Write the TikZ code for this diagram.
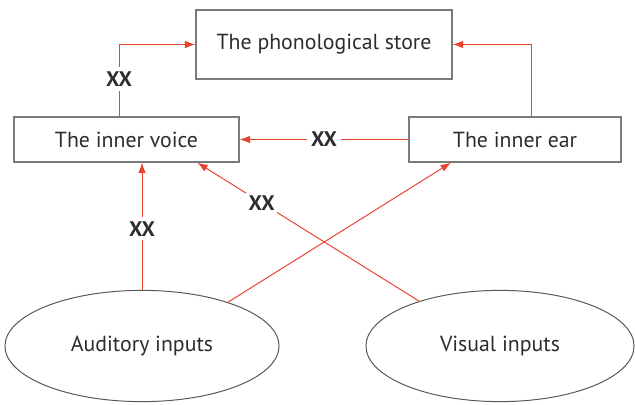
\documentclass[tikz,border=0pt]{standalone}
\usepackage{fontspec}
\setmainfont{PT Sans}
\usepackage{xcolor}
\usetikzlibrary{positioning,arrows.meta,shapes.geometric,calc}
\definecolor{linkCol}{HTML}{E8432F}
\definecolor{boxCol}{HTML}{7A7A7A}
\definecolor{txtCol}{HTML}{2D2D2D}

\begin{document}
\begin{tikzpicture}[
    x=0.025cm, y=-0.025cm,
    >={Latex[length=2.6mm,width=1.9mm]},
    font=\fontsize{15.5}{17}\selectfont,
    text=txtCol,
    box/.style={draw=boxCol, line width=1pt, inner sep=0pt,
      minimum height=1.125cm, align=center},
    input/.style={ellipse, draw=txtCol!80, line width=0.7pt, inner sep=0pt,
      minimum height=2.78cm},
    arr/.style={->, line width=0.7pt, draw=linkCol},
    tag/.style={fill=white, inner sep=3pt, font=\fontsize{15}{17}\selectfont\bfseries},
  ]
\useasboundingbox (0,0) rectangle (635,405);

% Stores and rehearsal
\node[box, minimum width=6.4cm, minimum height=1.725cm] (store) at (324,44.5) {The phonological store};
\node[box, minimum width=5.625cm] (voice) at (126.5,139.5) {The inner voice};
\node[box, minimum width=5.3cm] (ear) at (515,139.5) {The inner ear};

% Inputs
\node[input, minimum width=6.85cm] (aud) at (142,346) {Auditory inputs};
\node[input, minimum width=6.7cm] (vis) at (500,346) {Visual inputs};

% Anchor points on the box edges
\coordinate (voiceTop) at ($(voice.north west)!0.467!(voice.north east)$);
\coordinate (earTop) at ($(ear.north west)!0.575!(ear.north east)$);
\coordinate (voiceFoot) at ($(voice.south west)!0.813!(voice.south east)$);
\coordinate (earFoot) at ($(ear.south west)!0.2!(ear.south east)$);

% Arrows
\draw[arr] (voiceTop) -- node[tag, pos=0.52] {XX} (voiceTop |- store.west) -- (store.west);
\draw[arr] (earTop) |- (store.east);
\draw[arr] (ear.west) -- node[tag] {XX} (voice.east);
\draw[arr] (aud.north) -- node[tag, pos=0.48] {XX} (aud.north |- voice.south);
\draw[arr] (aud.27) -- (earFoot);
\draw[arr] (vis.151) -- node[tag, pos=0.71, inner sep=2pt] {XX} (voiceFoot);

\end{tikzpicture}
\end{document}
